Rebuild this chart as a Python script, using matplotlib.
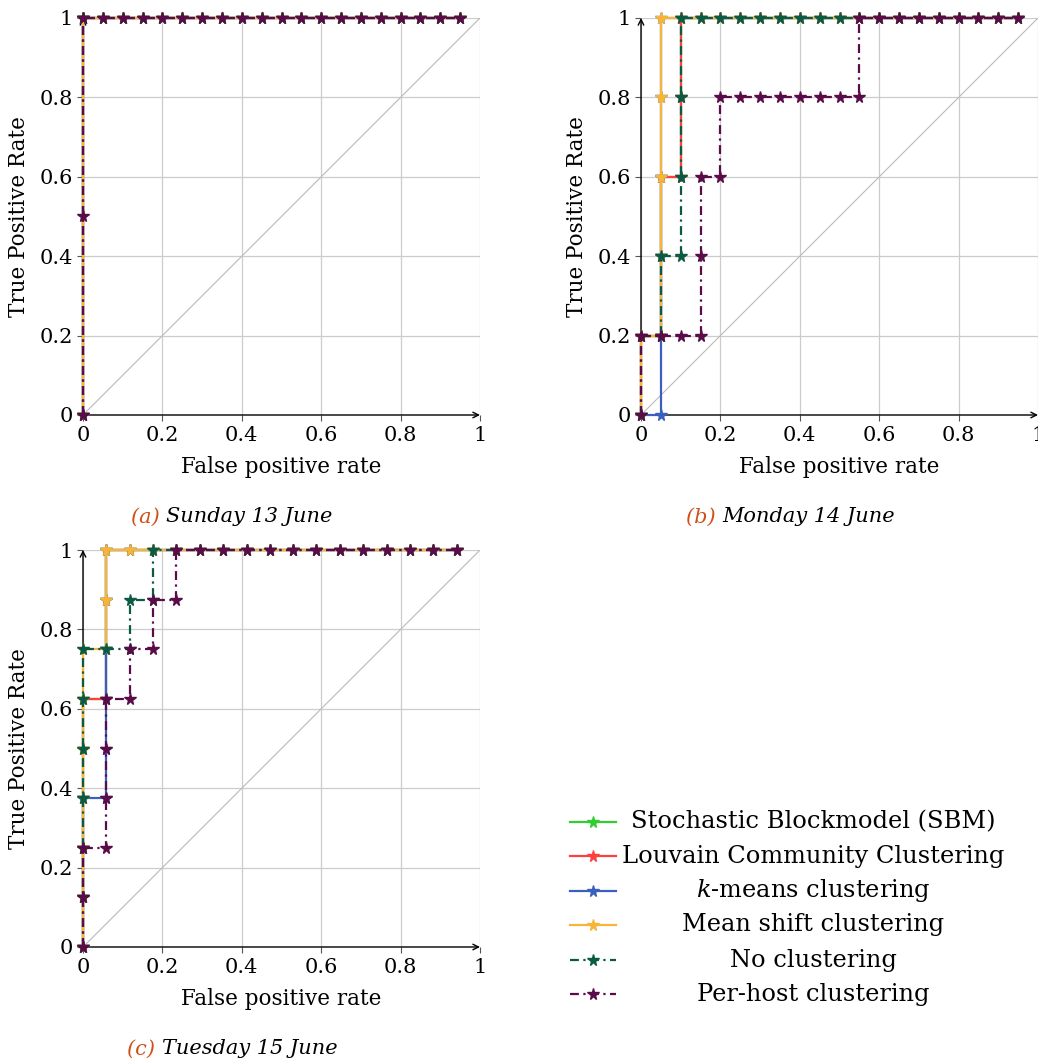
import numpy as np
import matplotlib.pyplot as plt
from matplotlib.lines import Line2D

plt.rcParams['font.family'] = ['DejaVu Serif']
plt.rcParams['mathtext.fontset'] = 'dejavuserif'

# ---- data -------------------------------------------------------------
names = ["Stochastic Blockmodel (SBM)", "Louvain Community Clustering",
         "$k$-means clustering", "Mean shift clustering",
         "No clustering", "Per-host clustering"]
colors = ["#33cc33", "#ff4040", "#3a5fbf", "#f7b538", "#0b5a43", "#5a0c48"]
styles = ["-", "-", "-", "-", "dashdot", "dashdot"]

ticks = [0, 0.2, 0.4, 0.6, 0.8, 1]
tick_labels = ["0", "0.2", "0.4", "0.6", "0.8", "1"]
chance = [0, 1]

# Sunday 13 June (20 negatives)
sun_tail = [0.05, 0.10, 0.15, 0.20, 0.25, 0.30, 0.35, 0.40, 0.45, 0.50,
            0.55, 0.60, 0.65, 0.70, 0.75, 0.80, 0.85, 0.90, 0.95]
sun_fpr = [0.0, 0.0, 0.0] + sun_tail
sun_tpr = [0.0, 1.0, 1.0] + [1.0] * len(sun_tail)
sun_host_tpr = [0.0, 0.5, 1.0] + [1.0] * len(sun_tail)

# Monday 14 June (20 negatives, 5 positives)
mon_tail = [0.15, 0.20, 0.25, 0.30, 0.35, 0.40, 0.45, 0.50, 0.55, 0.60,
            0.65, 0.70, 0.75, 0.80, 0.85, 0.90, 0.95]
mon_louv_fpr = [0.0, 0.0, 0.05, 0.05, 0.05, 0.10, 0.10, 0.10] + mon_tail
mon_louv_tpr = [0.0, 0.2, 0.2, 0.4, 0.6, 0.6, 0.8, 1.0] + [1.0] * len(mon_tail)
mon_km_fpr = [0.0, 0.05, 0.05, 0.05, 0.05, 0.05, 0.05, 0.10] + mon_tail
mon_km_tpr = [0.0, 0.0, 0.2, 0.4, 0.6, 0.8, 1.0, 1.0] + [1.0] * len(mon_tail)
mon_ms_fpr = [0.0, 0.0, 0.05, 0.05, 0.05, 0.05, 0.05, 0.10] + mon_tail
mon_ms_tpr = [0.0, 0.2, 0.2, 0.4, 0.6, 0.8, 1.0, 1.0] + [1.0] * len(mon_tail)
mon_nc_fpr = [0.0, 0.0, 0.05, 0.05, 0.10, 0.10, 0.10, 0.10] + mon_tail
mon_nc_tpr = [0.0, 0.2, 0.2, 0.4, 0.4, 0.6, 0.8, 1.0] + [1.0] * len(mon_tail)
mon_ph_fpr = [0.0, 0.0, 0.05, 0.10, 0.15, 0.15, 0.15, 0.20, 0.20, 0.25, 0.30,
              0.35, 0.40, 0.45, 0.50, 0.55, 0.55, 0.60, 0.65, 0.70, 0.75,
              0.80, 0.85, 0.90, 0.95]
mon_ph_tpr = [0.0, 0.2, 0.2, 0.2, 0.2, 0.4, 0.6, 0.6, 0.8, 0.8, 0.8,
              0.8, 0.8, 0.8, 0.8, 0.8, 1.0, 1.0, 1.0, 1.0, 1.0,
              1.0, 1.0, 1.0, 1.0]

# Tuesday 15 June (17 negatives, 8 positives)
tue_tail = [0.118, 0.176, 0.235, 0.294, 0.353, 0.412, 0.471, 0.529,
            0.588, 0.647, 0.706, 0.765, 0.824, 0.882, 0.941]
tue_louv_fpr = [0, 0, 0, 0, 0, 0, 0.059, 0.059, 0.059, 0.059] + tue_tail
tue_louv_tpr = [0, 0.125, 0.25, 0.375, 0.5, 0.625, 0.625, 0.75, 0.875, 1] + [1] * len(tue_tail)
tue_km_fpr = [0, 0, 0, 0, 0.059, 0.059, 0.059, 0.059, 0.059, 0.059] + tue_tail
tue_km_tpr = [0, 0.125, 0.25, 0.375, 0.375, 0.5, 0.625, 0.75, 0.875, 1] + [1] * len(tue_tail)
tue_ms_fpr = [0, 0, 0, 0, 0, 0, 0, 0.059, 0.059, 0.059] + tue_tail
tue_ms_tpr = [0, 0.125, 0.25, 0.375, 0.5, 0.625, 0.75, 0.75, 0.875, 1] + [1] * len(tue_tail)
tue_nc_fpr = [0, 0, 0, 0, 0, 0, 0, 0.059, 0.118, 0.118, 0.176, 0.176] + tue_tail[2:]
tue_nc_tpr = [0, 0.125, 0.25, 0.375, 0.5, 0.625, 0.75, 0.75, 0.75, 0.875, 0.875, 1] + [1] * len(tue_tail[2:])
tue_ph_fpr = [0, 0, 0, 0.059, 0.059, 0.059, 0.059, 0.118, 0.118, 0.176, 0.176,
              0.235, 0.235] + tue_tail[3:]
tue_ph_tpr = [0, 0.125, 0.25, 0.25, 0.375, 0.5, 0.625, 0.625, 0.75, 0.75, 0.875,
              0.875, 1] + [1] * len(tue_tail[3:])

panels = [
    ("(a)", "Sunday 13 June",
     [(sun_fpr, sun_tpr)] * 5 + [(sun_fpr, sun_host_tpr)]),
    ("(b)", "Monday 14 June",
     [(mon_louv_fpr, mon_louv_tpr), (mon_louv_fpr, mon_louv_tpr),
      (mon_km_fpr, mon_km_tpr), (mon_ms_fpr, mon_ms_tpr),
      (mon_nc_fpr, mon_nc_tpr), (mon_ph_fpr, mon_ph_tpr)]),
    ("(c)", "Tuesday 15 June",
     [(tue_louv_fpr, tue_louv_tpr), (tue_louv_fpr, tue_louv_tpr),
      (tue_km_fpr, tue_km_tpr), (tue_ms_fpr, tue_ms_tpr),
      (tue_nc_fpr, tue_nc_tpr), (tue_ph_fpr, tue_ph_tpr)]),
]

# ---- figure -----------------------------------------------------------
W, H = 1038, 1063
fig = plt.figure(figsize=(W / 100, H / 100), dpi=100)

def px(x, y):
    return x / W, 1 - y / H

dashdot = (0, (4, 2, 1, 2))
fs_tick = 15
fs_lab = 15.5
fs_cap = 15

# axes boxes in pixels: left, top, right, bottom
boxes = [(83, 18, 480, 415), (641, 18, 1038, 415), (83, 550, 480, 947)]
caps = [(232, 517), (790, 517), (232, 1049)]

for (tag, title, series), box, cap in zip(panels, boxes, caps):
    l, t, r, b = box
    ax = fig.add_axes([l / W, 1 - b / H, (r - l) / W, (b - t) / H])
    ax.set_xlim(0, 1)
    ax.set_ylim(0, 1)
    ax.grid(True, color="#cccccc", lw=0.9)
    ax.set_axisbelow(True)
    ax.plot(chance, chance, color="#bbbbbb", lw=0.8, zorder=1)
    for (x, y), c, ls in zip(series, colors, styles):
        ax.plot(x, y, color=c, lw=1.6, linestyle=dashdot if ls == "dashdot" else ls,
                marker="*", markersize=8.5, clip_on=False, zorder=3)
    ax.set_xticks(ticks)
    ax.set_xticklabels(tick_labels, fontsize=fs_tick)
    ax.set_yticks(ticks)
    ax.set_yticklabels(tick_labels, fontsize=fs_tick)
    ax.tick_params(length=4, width=0.8, color="#555555")
    ax.tick_params(axis="x", pad=4)
    ax.tick_params(axis="y", pad=3)
    for s in ["top", "right", "left", "bottom"]:
        ax.spines[s].set_visible(False)
    ax.annotate("", xy=(1, 0), xytext=(0, 0), xycoords="axes fraction",
                arrowprops=dict(arrowstyle="->", lw=1.0, color="black",
                                shrinkA=0, shrinkB=0), zorder=2)
    ax.annotate("", xy=(0, 1), xytext=(0, 0), xycoords="axes fraction",
                arrowprops=dict(arrowstyle="->", lw=1.0, color="black",
                                shrinkA=0, shrinkB=0), zorder=2)
    ax.set_xlabel("False positive rate", fontsize=fs_lab, labelpad=8)
    ax.set_ylabel("True Positive Rate", fontsize=fs_lab, labelpad=7)

    # caption: coloured tag + italic title
    r_ = fig.canvas.get_renderer()
    cx, cy = cap
    t1 = fig.text(0, 0, tag + " ", fontsize=fs_cap, style="italic", color="#d0501a")
    t2 = fig.text(0, 0, title, fontsize=fs_cap, style="italic", color="black")
    w1 = t1.get_window_extent(r_).width
    w2 = t2.get_window_extent(r_).width
    x0 = cx - (w1 + w2) / 2
    t1.set_position(px(x0, cy))
    t2.set_position(px(x0 + w1, cy))
    t1.set_va("center")
    t2.set_va("center")

# ---- legend (drawn by hand so the labels are centred) ---------------------
rows = [822, 856, 891, 925, 960, 994]
for name, c, ls, y in zip(names, colors, styles, rows):
    x0, y0 = px(570, y)
    x1, _ = px(616, y)
    fig.add_artist(Line2D([x0, x1], [y0, y0], color=c, lw=1.6,
                          linestyle=dashdot if ls == "dashdot" else ls))
    xm, _ = px(593, y)
    fig.add_artist(Line2D([xm], [y0], color=c, marker="*", markersize=8.5))
    tx, ty = px(813, y)
    fig.text(tx, ty, name, fontsize=17.4, ha="center", va="center")

fig.savefig("out.png", dpi=100)
